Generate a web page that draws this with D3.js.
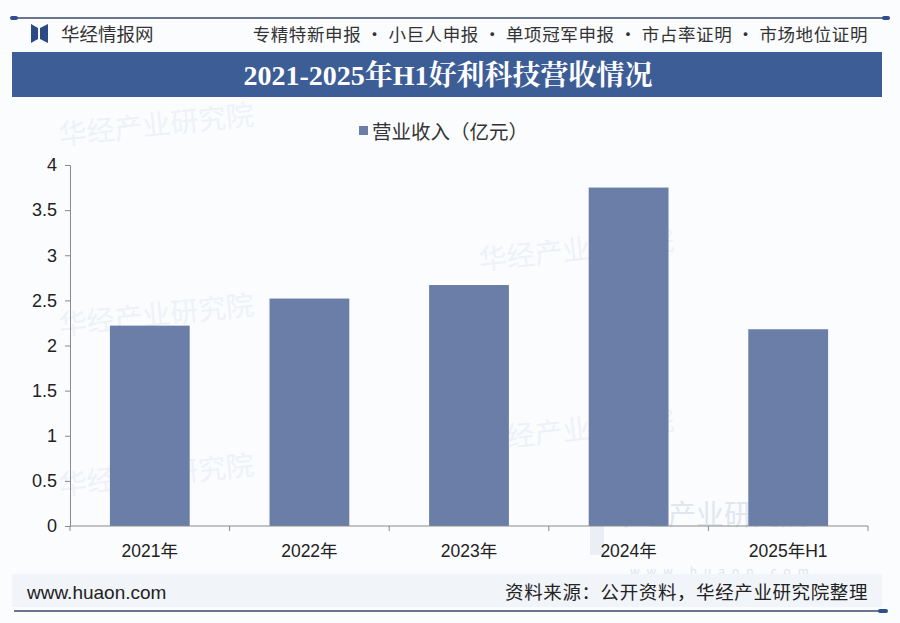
<!DOCTYPE html>
<html>
<head>
<meta charset="utf-8">
<script src="https://cdn.jsdelivr.net/npm/d3@7"></script>
<style>
  body { margin: 0; background: #fff; }
  svg { display: block; font-family: "Liberation Sans", Arial, "Noto Sans CJK SC", sans-serif; }
</style>
</head>
<body>
<div id="chart"></div>
<script>
// data
var categories = ["2021年", "2022年", "2023年", "2024年", "2025年H1"];
var revenue = [2.22, 2.52, 2.67, 3.75, 2.18];
var yTicks = [0, 0.5, 1, 1.5, 2, 2.5, 3, 3.5, 4];
var seriesName = "营业收入（亿元）";
var title = "2021-2025年H1好利科技营收情况";
var headerRight = "专精特新申报 · 小巨人申报 · 单项冠军申报 · 市占率证明 · 市场地位证明";
var source = "资料来源：公开资料，华经产业研究院整理";

var W = 900, H = 623;
var svg = d3.select("#chart").append("svg")
    .attr("width", W)
    .attr("height", H);

var cjk = "'Noto Sans CJK SC', sans-serif";

// faint page background
svg.append("rect").attr("width", W).attr("height", H).attr("fill", "#fbfcfe");

// header line with end caps
svg.append("line")
    .attr("x1", 14).attr("x2", 886).attr("y1", 18).attr("y2", 18)
    .attr("stroke", "#3a4a6a").attr("stroke-width", 1.5);
[14, 886].forEach(function(x) {
    svg.append("rect").attr("x", x - 4).attr("y", 16).attr("width", 8).attr("height", 4)
        .attr("rx", 2).attr("fill", "#2f4e8c");
});

// logo
var logo = svg.append("g").attr("transform", "translate(31,24)");
logo.append("path").attr("d", "M0,0 L7,4 L7,15 L0,19 Z").attr("fill", "#2c4a86");
logo.append("path").attr("d", "M17,0 L9,4 L9,15 L17,19 Z").attr("fill", "#2c4a86");
svg.append("text").attr("x", 61).attr("y", 41)
    .attr("font-family", cjk).attr("font-size", 18.5).attr("fill", "#333")
    .text("华经情报网");
svg.append("text").attr("x", 868).attr("y", 41).attr("text-anchor", "end")
    .attr("font-family", cjk).attr("font-size", 17.5).attr("letter-spacing", 0.6).attr("fill", "#333")
    .text(headerRight);

// title band
svg.append("rect").attr("x", 12).attr("y", 52).attr("width", 870).attr("height", 45)
    .attr("fill", "#3d5d96");
svg.append("text").attr("x", 448).attr("y", 85).attr("text-anchor", "middle")
    .attr("font-family", "'Liberation Serif', 'Noto Serif CJK SC', serif")
    .attr("font-weight", "bold").attr("font-size", 28).attr("fill", "#fff")
    .text(title);

// plot area
var margin = { top: 165, left: 70, right: 32, bottom: 97 };
var width = W - margin.left - margin.right,
    height = H - margin.top - margin.bottom;

var g = svg.append("g")
    .attr("transform", "translate(" + margin.left + "," + margin.top + ")");

var x = d3.scaleBand()
    .domain(categories)
    .range([0, width])
    .paddingInner(0.5)
    .paddingOuter(0.25);

var y = d3.scaleLinear()
    .domain([0, 4])
    .range([height, 0]);

// watermarks (very faint)
var wm = g.append("g").attr("font-family", cjk).attr("fill", "#eef2f8");
wm.append("rect").attr("x", 520).attr("y", 340).attr("width", 14).attr("height", 50).attr("fill", "#eaeff6");
wm.append("text").attr("x", 542).attr("y", 360).attr("font-size", 28).attr("fill", "#e1e6ee").text("华经产业研究院");
wm.append("text").attr("x", 560).attr("y", 411).attr("font-size", 12).attr("fill", "#dfe4ec")
    .attr("letter-spacing", 7).text("www.huaon.com");
[[-10, -20], [-10, 170], [410, 105], [410, 285], [-10, 330]].forEach(function(p) {
    wm.append("text").attr("x", p[0]).attr("y", p[1]).attr("font-size", 28)
        .attr("transform", "rotate(-6," + p[0] + "," + p[1] + ")").text("华经产业研究院");
});

// bars
g.selectAll(".bar")
    .data(revenue)
    .enter().append("rect")
    .attr("class", "bar")
    .attr("x", function(d, i) { return x(categories[i]); })
    .attr("width", x.bandwidth())
    .attr("y", function(d) { return y(d); })
    .attr("height", function(d) { return y(0) - y(d); })
    .attr("fill", "#6a7ea8");

// y axis
var yAxis = g.append("g")
    .call(d3.axisLeft(y).tickValues(yTicks).tickSize(5).tickPadding(8)
        .tickFormat(function(d) { return d; }));
yAxis.select(".domain").attr("stroke", "#8a8a8a");
yAxis.selectAll(".tick line").attr("stroke", "#8a8a8a");
yAxis.selectAll("text").attr("font-size", 18).attr("fill", "#222")
    .attr("font-family", "'Liberation Sans', Arial, sans-serif");

// x axis with boundary ticks
var xAxis = g.append("g").attr("transform", "translate(0," + height + ")");
xAxis.append("line").attr("x1", 0).attr("x2", width).attr("y1", 0).attr("y2", 0)
    .attr("stroke", "#8a8a8a");
var step = x.step();
var bounds = d3.range(categories.length + 1).map(function(i) {
    return x(categories[0]) - step * x.paddingInner() / 2 + i * step;
});
bounds[0] = 0; bounds[bounds.length - 1] = width;
xAxis.selectAll(".bt").data(bounds).enter().append("line")
    .attr("x1", function(d) { return d; }).attr("x2", function(d) { return d; })
    .attr("y1", 0).attr("y2", 5).attr("stroke", "#8a8a8a");
xAxis.selectAll(".lbl").data(categories).enter().append("text")
    .attr("x", function(d) { return x(d) + x.bandwidth() / 2; })
    .attr("y", 31)
    .attr("text-anchor", "middle")
    .attr("font-family", "'Liberation Sans', Arial, 'Noto Sans CJK SC', sans-serif")
    .attr("font-size", 17.5).attr("fill", "#222")
    .text(function(d) { return d; });

// legend
svg.append("rect").attr("x", 359).attr("y", 126).attr("width", 9).attr("height", 9).attr("fill", "#6a7ea8");
svg.append("text").attr("x", 372).attr("y", 139)
    .attr("font-family", cjk).attr("font-size", 19.5).attr("fill", "#333")
    .text(seriesName);

// footer
svg.append("rect").attr("x", 12).attr("y", 574).attr("width", 870).attr("height", 33).attr("fill", "#f1f4f9");
svg.append("text").attr("x", 27).attr("y", 599)
    .attr("font-family", "'Liberation Sans', Arial, sans-serif").attr("font-size", 19).attr("fill", "#222")
    .text("www.huaon.com");
svg.append("text").attr("x", 868).attr("y", 599).attr("text-anchor", "end")
    .attr("font-family", cjk).attr("font-size", 18.5).attr("letter-spacing", 0.6).attr("fill", "#222")
    .text(source);
svg.append("line")
    .attr("x1", 14).attr("x2", 884).attr("y1", 611).attr("y2", 611)
    .attr("stroke", "#3a4a6a").attr("stroke-width", 1.5);
svg.append("rect").attr("x", 878).attr("y", 609).attr("width", 10).attr("height", 4)
    .attr("rx", 2).attr("fill", "#2f4e8c");
</script>
</body>
</html>
